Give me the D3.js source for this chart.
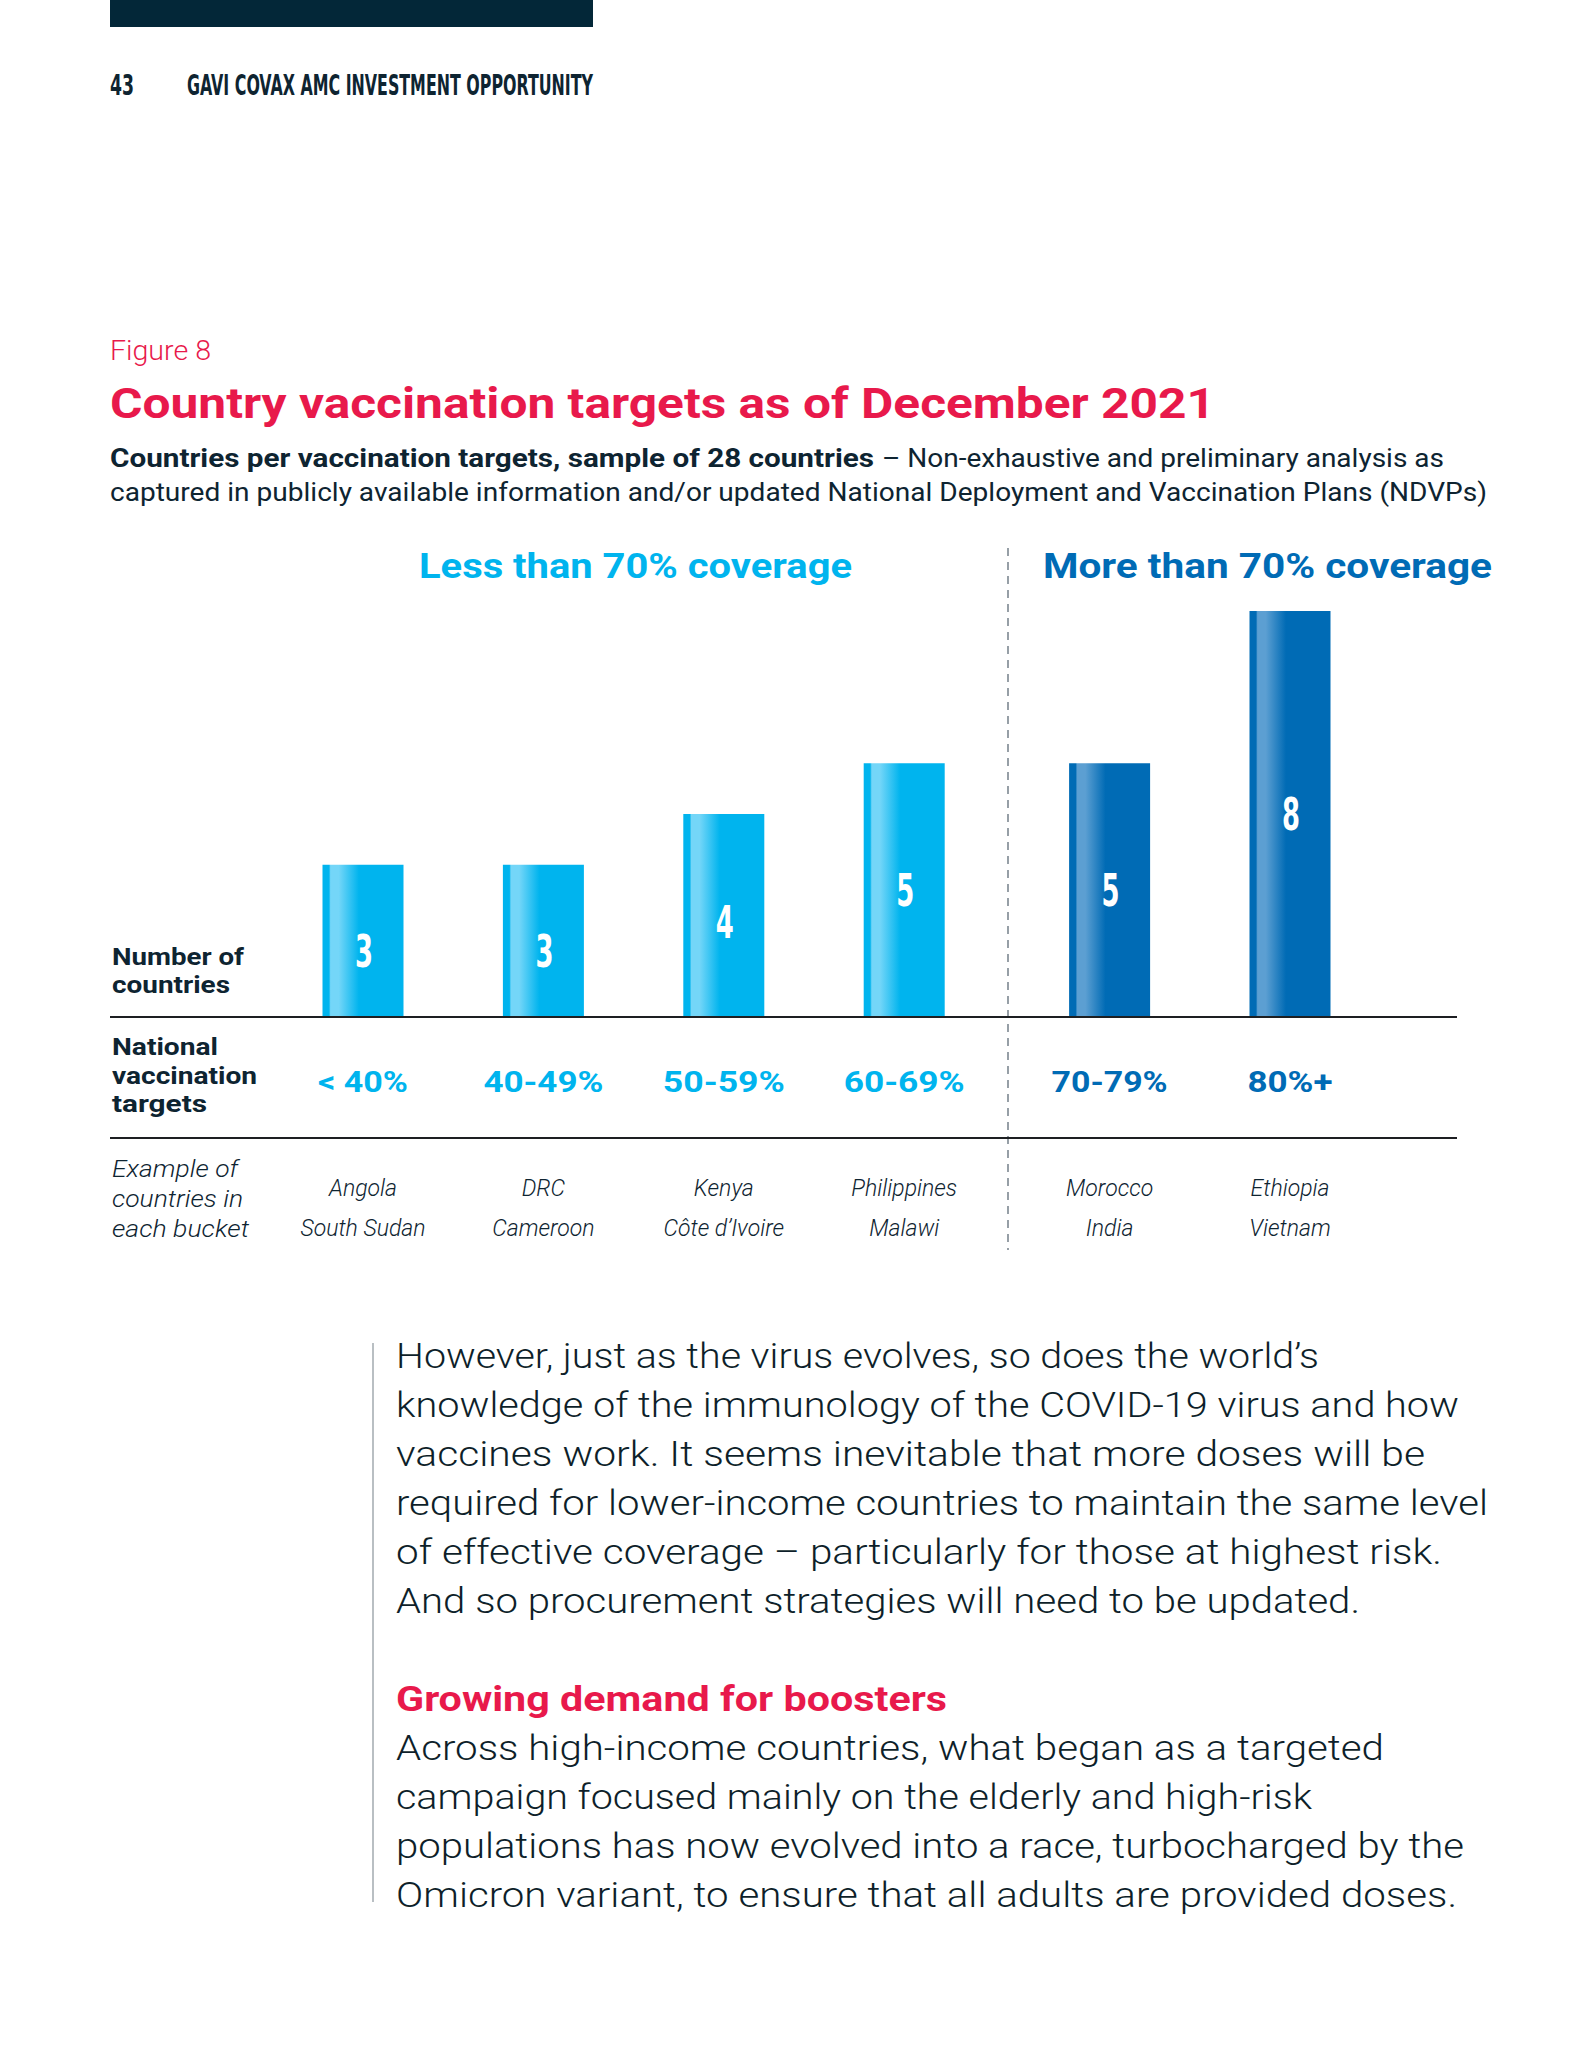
<!DOCTYPE html>
<html>
<head>
<meta charset="utf-8">
<script src="https://cdn.jsdelivr.net/npm/d3@7"></script>
<style>
  html, body { margin: 0; padding: 0; background: #fff; }
  svg { display: block; }
</style>
</head>
<body>
<script>
// ---------- data ----------
const categories = ["< 40%", "40-49%", "50-59%", "60-69%", "70-79%", "80%+"];
const counts = [3, 3, 4, 5, 5, 8];
const groups = ["low", "low", "low", "low", "high", "high"];
const exampleLine1 = ["Angola", "DRC", "Kenya", "Philippines", "Morocco", "Ethiopia"];
const exampleLine2 = ["South Sudan", "Cameroon", "Côte d’Ivoire", "Malawi", "India", "Vietnam"];
const groupTitles = ["Less than 70% coverage", "More than 70% coverage"];
const bodyPara1 = [
  "However, just as the virus evolves, so does the world’s",
  "knowledge of the immunology of the COVID-19 virus and how",
  "vaccines work. It seems inevitable that more doses will be",
  "required for lower-income countries to maintain the same level",
  "of effective coverage – particularly for those at highest risk.",
  "And so procurement strategies will need to be updated."
];
const bodyHeading = "Growing demand for boosters";
const bodyPara2 = [
  "Across high-income countries, what began as a targeted",
  "campaign focused mainly on the elderly and high-risk",
  "populations has now evolved into a race, turbocharged by the",
  "Omicron variant, to ensure that all adults are provided doses."
];

// ---------- style ----------
const W = 1596, H = 2063;
const NAVY = "#0e2431", RED = "#e8194b", LIGHT = "#00b4ee", DARK = "#006bb5";
const SANS = "Roboto, 'Open Sans', sans-serif";
const NARROW = "'Liberation Sans Narrow', 'DejaVu Sans Condensed', sans-serif";

const svg = d3.select("body").append("svg").attr("width", W).attr("height", H);

// gradients for bars
const defs = svg.append("defs");
function grad(id, base, light) {
  const g = defs.append("linearGradient").attr("id", id).attr("x1", 0).attr("x2", 1).attr("y1", 0).attr("y2", 0);
  [[0, base], [0.08, base], [0.1, light], [0.2, light], [0.45, base], [1, base]]
    .forEach(([o, c]) => g.append("stop").attr("offset", o).attr("stop-color", c));
}
grad("gLight", LIGHT, "#74d6f8");
grad("gDark", DARK, "#5c9fd2");

function txt(x, y, s, o = {}) {
  const t = svg.append("text").attr("x", x).attr("y", y).text(s)
    .attr("font-family", o.family || SANS)
    .attr("font-size", o.size || 24)
    .attr("font-weight", o.weight || 400)
    .attr("fill", o.fill || NAVY)
    .attr("text-anchor", o.anchor || "start");
  if (o.italic) t.attr("font-style", "italic");
  if (o.len) t.attr("textLength", o.len).attr("lengthAdjust", "spacingAndGlyphs");
  return t;
}

// ---------- page header ----------
svg.append("rect").attr("x", 110).attr("y", 0).attr("width", 483).attr("height", 27).attr("fill", "#032738");
txt(110, 95, "43", { family: NARROW, size: 28, weight: 700, len: 24 });
txt(187, 95, "GAVI COVAX AMC INVESTMENT OPPORTUNITY", { family: NARROW, size: 28, weight: 700, len: 406 });

// ---------- figure titles ----------
txt(110, 360, "Figure 8", { size: 28, weight: 300, fill: RED, len: 101 });
txt(110, 418, "Country vaccination targets as of December 2021", { size: 43, weight: 700, fill: RED, len: 1105 });
txt(110, 467, "Countries per vaccination targets, sample of 28 countries", { size: 25, weight: 700, len: 764 });
txt(882, 467, "– Non-exhaustive and preliminary analysis as", { size: 25, weight: 400, len: 562 });
txt(110, 501, "captured in publicly available information and/or updated National Deployment and Vaccination Plans (NDVPs)", { size: 25, weight: 400, len: 1377 });

// ---------- chart ----------
const baseY = 1017;
const y = d3.scaleLinear().domain([0, 8]).range([baseY, 611]);
const xp = d3.scalePoint().domain(categories).range([363, 363 + 5 * 180.4]);
const groupGap = 25;
const x = c => xp(c) + (groups[categories.indexOf(c)] === "high" ? groupGap : 0);
const barW = 81;

// group titles
txt(419, 578, groupTitles[0], { size: 35, weight: 700, fill: LIGHT, len: 433 });
txt(1043, 578, groupTitles[1], { size: 35, weight: 700, fill: DARK, len: 449 });

// divider
svg.append("line").attr("x1", 1008).attr("x2", 1008).attr("y1", 548).attr("y2", 1250)
  .attr("stroke", "#7d8891").attr("stroke-width", 1.6).attr("stroke-dasharray", "8,6");

// bars
const data = categories.map((c, i) => ({ c, v: counts[i], g: groups[i], e1: exampleLine1[i], e2: exampleLine2[i] }));
svg.append("g").selectAll("rect").data(data).join("rect")
  .attr("x", d => x(d.c) - barW / 2)
  .attr("y", d => y(d.v))
  .attr("width", barW)
  .attr("height", d => baseY - y(d.v))
  .attr("fill", d => d.g === "high" ? "url(#gDark)" : "url(#gLight)");

// bar value labels (condensed)
svg.append("g").selectAll("text").data(data).join("text")
  .attr("x", d => x(d.c) + 1)
  .attr("y", d => (y(d.v) + baseY) / 2 + 16 + (d.v <= 3 ? 10 : d.v === 4 ? 6 : 0))
  .attr("text-anchor", "middle")
  .attr("font-family", NARROW).attr("font-weight", 700).attr("font-size", 44)
  .attr("fill", "#fff")
  .attr("textLength", 18).attr("lengthAdjust", "spacingAndGlyphs")
  .text(d => d.v);

// horizontal rules
[baseY, 1138].forEach(yy => svg.append("line").attr("x1", 110).attr("x2", 1457).attr("y1", yy).attr("y2", yy)
  .attr("stroke", "#1d1f22").attr("stroke-width", 2));

// row labels
txt(112, 965, "Number of", { size: 24, weight: 700, len: 132 });
txt(112, 993, "countries", { size: 24, weight: 700, len: 118 });
txt(112, 1055, "National", { size: 24, weight: 700, len: 106 });
txt(112, 1084, "vaccination", { size: 24, weight: 700, len: 145 });
txt(112, 1112, "targets", { size: 24, weight: 700, len: 95 });
txt(112, 1177, "Example of", { size: 23, weight: 300, italic: true, len: 126 });
txt(112, 1207, "countries in", { size: 23, weight: 300, italic: true, len: 131 });
txt(112, 1237, "each bucket", { size: 23, weight: 300, italic: true, len: 137 });

// category labels
const catWidths = [90, 120, 122, 121, 116, 85];
svg.append("g").selectAll("text").data(data).join("text")
  .attr("x", d => x(d.c))
  .attr("y", 1092)
  .attr("text-anchor", "middle")
  .attr("font-family", SANS).attr("font-weight", 700).attr("font-size", 29)
  .attr("fill", d => d.g === "high" ? DARK : LIGHT)
  .attr("textLength", (d, i) => catWidths[i]).attr("lengthAdjust", "spacingAndGlyphs")
  .text(d => d.c);

// example countries
const ex = svg.append("g");
ex.selectAll("text.l1").data(data).join("text").attr("class", "l1")
  .attr("x", d => x(d.c)).attr("y", 1196)
  .attr("text-anchor", "middle").attr("font-family", SANS).attr("font-style", "italic")
  .attr("font-weight", 300).attr("font-size", 23).attr("fill", NAVY)
  .text(d => d.e1);
ex.selectAll("text.l2").data(data).join("text").attr("class", "l2")
  .attr("x", d => x(d.c)).attr("y", 1236)
  .attr("text-anchor", "middle").attr("font-family", SANS).attr("font-style", "italic")
  .attr("font-weight", 300).attr("font-size", 23).attr("fill", NAVY)
  .text(d => d.e2);

// ---------- body text ----------
svg.append("line").attr("x1", 373).attr("x2", 373).attr("y1", 1343).attr("y2", 1902)
  .attr("stroke", "#8a949b").attr("stroke-width", 1.2);
const p1Widths = [923, 1063, 1029, 1092, 1046, 964];
bodyPara1.forEach((s, i) => txt(396, 1368 + i * 49, s, { size: 35, weight: 300, fill: "#0e1f2a", len: p1Widths[i] }));
txt(396, 1711, bodyHeading, { size: 35, weight: 700, fill: RED, len: 551 });
const p2Widths = [988, 916, 1068, 1061];
bodyPara2.forEach((s, i) => txt(396, 1760 + i * 49, s, { size: 35, weight: 300, fill: "#0e1f2a", len: p2Widths[i] }));
</script>
</body>
</html>
